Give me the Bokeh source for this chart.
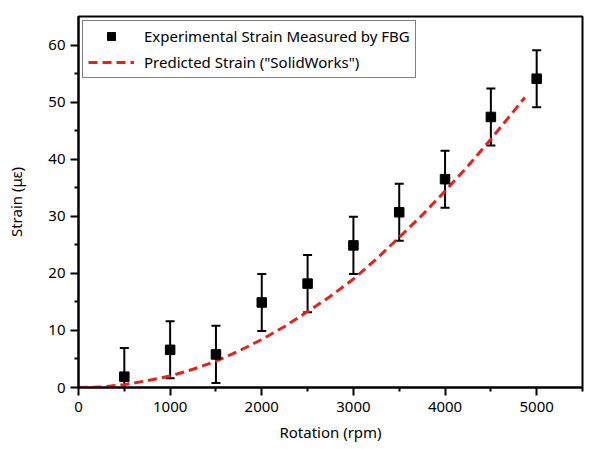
from bokeh.plotting import figure
from bokeh.models import ColumnDataSource, Whisker, TeeHead, Legend, LegendItem, FixedTicker
from bokeh.embed import file_html
from bokeh.resources import INLINE

# Experimental data (FBG)
rpm = [500, 1000, 1500, 2000, 2500, 3000, 3500, 4000, 4500, 5000]
strain = [1.9, 6.6, 5.8, 14.9, 18.2, 24.9, 30.7, 36.5, 47.4, 54.1]
err = [5.0, 5.0, 5.0, 5.0, 5.0, 5.0, 5.0, 5.0, 5.0, 5.0]

# Predicted strain (SolidWorks)
pred_rpm = [0, 250, 500, 750, 1000, 1250, 1500, 1750, 2000, 2250, 2500, 2750, 3000,
            3250, 3500, 3750, 4000, 4250, 4500, 4870]
pred_strain = [0.0, 0.1, 0.5, 1.2, 2.0, 3.2, 4.6, 6.4, 8.4, 10.7, 13.3, 16.0, 19.0,
               22.5, 26.3, 30.2, 34.4, 38.8, 43.5, 50.8]

x_ticks = [0, 1000, 2000, 3000, 4000, 5000]
x_minor = [500, 1500, 2500, 3500, 4500, 5500]
y_ticks = [0, 10, 20, 30, 40, 50, 60]
y_minor = [5, 15, 25, 35, 45, 55]

FONT = "Noto Sans"

p = figure(width=600, height=449, output_backend="svg", toolbar_location=None,
           x_range=(0, 5500), y_range=(0, 65),
           min_border_left=78, min_border_top=16, min_border_right=18, min_border_bottom=62)
p.frame_width = 504
p.frame_height = 371

p.background_fill_color = "white"
p.border_fill_color = "white"
p.outline_line_color = "black"
p.outline_line_width = 2
p.grid.visible = False

lower = [s - e for s, e in zip(strain, err)]
upper = [s + e for s, e in zip(strain, err)]
src = ColumnDataSource(dict(x=rpm, y=strain, lower=lower, upper=upper))

pred_src = ColumnDataSource(dict(x=pred_rpm, y=pred_strain))
r_pred = p.line("x", "y", source=pred_src, line_color="#e3231f", line_width=3,
                line_dash="9 5")

wh = Whisker(base="x", lower="lower", upper="upper", source=src,
             line_color="black", line_width=2,
             upper_head=TeeHead(size=9, line_color="black", line_width=2),
             lower_head=TeeHead(size=9, line_color="black", line_width=2))
p.add_layout(wh)

r_exp = p.scatter("x", "y", source=src, marker="square", size=9.5,
                  fill_color="black", line_color="black")

legend = Legend(items=[
    LegendItem(label="Experimental Strain Measured by FBG", renderers=[r_exp]),
    LegendItem(label='Predicted Strain ("SolidWorks")', renderers=[r_pred]),
], location="top_left")
legend.border_line_color = "black"
legend.border_line_width = 1.5
legend.label_text_font = FONT
legend.label_text_font_size = "15px"
legend.label_text_color = "black"
legend.margin = 4
legend.padding = 5
legend.spacing = 6
legend.glyph_width = 46
legend.glyph_height = 20
legend.label_height = 20
legend.label_standoff = 10
legend.background_fill_alpha = 1
p.add_layout(legend)

for ax in (p.xaxis[0], p.yaxis[0]):
    ax.axis_line_width = 2
    ax.major_tick_line_width = 2
    ax.minor_tick_line_width = 2
    ax.major_tick_out = 8
    ax.major_tick_in = 0
    ax.minor_tick_out = 4
    ax.minor_tick_in = 0
    ax.major_label_text_font = FONT
    ax.major_label_text_font_size = "15px"
    ax.major_label_text_color = "black"
    ax.axis_label_text_font = FONT
    ax.axis_label_text_font_size = "15px"
    ax.axis_label_text_font_style = "normal"
    ax.axis_label_text_color = "black"

p.xaxis[0].ticker = FixedTicker(ticks=x_ticks, minor_ticks=x_minor)
p.yaxis[0].ticker = FixedTicker(ticks=y_ticks, minor_ticks=y_minor)
p.xaxis[0].axis_label = "Rotation (rpm)"
p.yaxis[0].axis_label = "Strain (με)"
p.xaxis[0].axis_label_standoff = 7
p.yaxis[0].axis_label_standoff = 19
p.xaxis[0].major_label_standoff = 6
p.yaxis[0].major_label_standoff = 5

open("out.html", "w").write(file_html(p, INLINE))
